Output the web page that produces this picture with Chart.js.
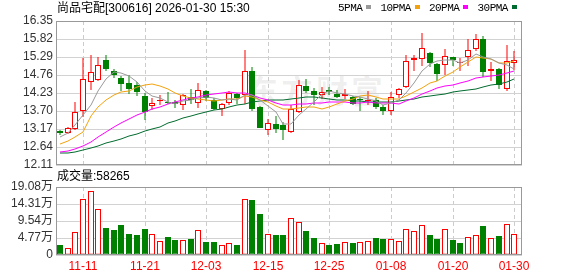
<!DOCTYPE html>
<html>
<head>
<meta charset="utf-8">
<script src="https://cdn.jsdelivr.net/npm/chart.js@4.4.1/dist/chart.umd.min.js"></script>
<style>
  body { margin:0; background:#fff; width:578px; height:276px; overflow:hidden; position:relative;
         font-family:'Liberation Sans','Noto Sans CJK SC',sans-serif; }
  canvas { position:absolute; left:0; }
  #kline { top:0; }
  #vol { top:176px; }
  .txt { position:absolute; font-size:12px; color:#000; white-space:nowrap; line-height:14px; }
  #title { left:57px; top:1px; }
  #legend { left:338px; top:1px; font-family:'Liberation Mono',monospace; font-size:11px; letter-spacing:-0.5px; }
  #legend i { display:inline-block; width:5px; height:4px; margin:0 9px 2px 4px; vertical-align:middle; }
  #volTitle { left:57px; top:169px; }
  #mark { position:absolute; left:246px; top:66px; font-size:32px; font-weight:bold; color:rgba(0,0,0,0.07);
          letter-spacing:3px; font-family:'Noto Sans CJK SC'; white-space:nowrap; }
</style>
</head>
<body>
<div id="mark">东方财富</div>
<canvas id="kline" width="578" height="176"></canvas>
<canvas id="vol" width="578" height="100"></canvas>
<div class="txt" id="title">尚品宅配[300616] 2026-01-30 15:30</div>
<div class="txt" id="legend">5PMA<i style="background:#999999"></i>10PMA<i style="background:#f2a20c"></i>20PMA<i style="background:#ff00ff"></i>30PMA<i style="background:#006b2e"></i></div>
<div class="txt" id="volTitle">成交量:58265</div>
<script>
// daily K-line data, 2025-11-06 .. 2026-01-30
const dates = ['11-06','11-07','11-10','11-11','11-12','11-13','11-14','11-17','11-18','11-19',
               '11-20','11-21','11-24','11-25','11-26','11-27','11-28','12-01','12-02','12-03',
               '12-04','12-05','12-08','12-09','12-10','12-11','12-12','12-15','12-16','12-17',
               '12-18','12-19','12-22','12-23','12-24','12-25','12-26','12-29','12-30','12-31',
               '01-05','01-06','01-07','01-08','01-09','01-12','01-13','01-14','01-15','01-16',
               '01-19','01-20','01-21','01-22','01-23','01-26','01-27','01-28','01-29','01-30'];

const opens  = [13.11,13.04,13.17,13.69,14.55,14.60,15.21,14.89,14.67,14.52,
                14.46,14.13,13.84,13.98,13.97,13.96,13.87,14.10,13.95,14.30,
                14.03,13.76,13.95,14.20,14.18,14.87,13.82,13.15,13.31,13.29,
                13.07,13.67,14.44,14.30,14.16,14.32,14.20,14.13,14.12,14.04,
                14.00,14.03,13.83,13.69,14.16,14.40,15.19,15.22,15.42,15.09,
                15.05,15.29,15.12,15.29,15.54,15.82,14.87,14.94,14.36,15.11];
const highs  = [13.13,13.23,13.96,15.26,15.34,15.29,15.34,14.94,14.72,14.75,
                14.55,14.22,14.07,14.18,14.26,14.03,14.19,14.35,14.52,14.32,
                14.08,13.94,14.28,14.22,15.50,15.01,13.84,13.47,13.54,13.39,
                13.87,14.61,14.64,14.38,14.41,14.41,14.32,14.36,14.14,14.10,
                14.28,14.08,13.87,14.26,14.38,15.34,15.34,16.00,15.44,15.11,
                15.52,15.30,15.25,15.82,15.97,15.92,15.13,14.97,15.64,15.46];
const lows   = [12.98,13.02,13.15,13.51,14.33,14.58,14.87,14.67,14.30,14.20,
                14.13,13.44,13.73,13.88,13.92,13.80,13.74,13.91,13.80,13.98,
                13.74,13.56,13.88,13.92,13.92,13.71,13.19,13.00,13.05,12.85,
                13.05,13.64,14.24,13.88,14.05,14.16,14.08,14.05,13.88,13.69,
                13.88,13.77,13.59,13.59,14.08,14.38,14.87,15.02,14.99,14.59,
                14.77,15.02,14.87,15.02,15.46,14.69,14.58,14.36,14.28,14.91];
const closes = [13.06,13.19,13.66,14.64,14.85,15.05,14.95,14.75,14.49,14.35,
                14.25,13.68,13.95,14.02,13.94,13.92,14.16,14.02,14.32,14.08,
                13.77,13.92,14.22,14.08,14.87,13.76,13.21,13.35,13.17,13.15,
                13.77,14.46,14.28,14.16,14.26,14.26,14.12,14.19,13.90,14.02,
                14.03,13.81,13.71,14.12,14.36,15.17,15.26,15.55,15.10,14.80,
                15.31,15.21,15.13,15.49,15.82,14.85,14.93,14.48,15.17,15.20];

const ma5  = [12.93,13.05,13.30,13.58,13.88,14.28,14.63,14.85,14.82,14.72,
              14.56,14.30,14.14,14.07,13.97,13.90,14.00,14.01,14.07,14.10,
              14.07,14.02,14.06,14.01,14.17,14.17,14.03,13.85,13.67,13.33,
              13.33,13.58,13.77,13.96,14.19,14.28,14.22,14.20,14.15,14.10,
              14.05,13.99,13.89,13.94,14.01,14.23,14.52,14.89,15.09,15.18,
              15.20,15.19,15.11,15.19,15.39,15.30,15.24,15.11,15.05,14.93];
const ma10 = [12.72,12.82,12.93,13.08,13.55,13.82,14.03,14.17,14.25,14.30,
              14.42,14.47,14.50,14.43,14.34,14.23,14.15,14.08,14.06,14.03,
              13.99,14.01,14.04,14.04,14.14,14.12,14.03,13.96,13.84,13.75,
              13.75,13.80,13.81,13.82,13.76,13.81,13.90,13.98,14.06,14.14,
              14.17,14.10,14.05,14.04,14.05,14.14,14.26,14.39,14.51,14.59,
              14.72,14.86,15.00,15.14,15.28,15.25,15.22,15.11,15.12,15.16];
const ma20 = [12.50,12.52,12.58,12.67,12.80,12.92,13.08,13.22,13.35,13.47,
              13.57,13.66,13.75,13.83,13.90,13.96,14.02,14.07,14.12,14.17,
              14.20,14.24,14.27,14.24,14.24,14.18,14.09,14.02,13.95,13.89,
              13.87,13.91,13.92,13.93,13.95,13.96,13.96,13.97,13.95,13.95,
              13.96,13.95,13.93,13.93,13.90,13.98,14.08,14.19,14.28,14.37,
              14.44,14.48,14.52,14.59,14.67,14.70,14.74,14.75,14.82,14.88];
const ma30 = [12.46,12.46,12.49,12.55,12.61,12.68,12.75,12.82,12.89,12.96,
              13.03,13.10,13.17,13.24,13.34,13.42,13.48,13.54,13.60,13.66,
              13.72,13.77,13.82,13.87,13.91,13.96,13.99,14.01,14.02,14.03,
              14.05,14.09,14.11,14.10,14.08,14.05,14.02,14.01,13.99,13.98,
              13.97,13.97,13.96,13.97,13.98,14.02,14.06,14.11,14.14,14.16,
              14.21,14.26,14.29,14.33,14.36,14.40,14.46,14.50,14.56,14.63];

// volume in 万手
const volumes = [2.70,2.06,6.36,15.8,17.9,13.0,7.50,6.90,8.30,5.80,
                 5.50,7.20,5.80,3.80,4.96,4.10,4.30,4.40,6.90,3.55,
                 3.55,2.90,3.46,2.70,15.8,15.5,11.4,6.00,5.50,5.50,
                 10.5,9.35,6.60,4.70,3.46,2.70,3.00,3.70,3.30,3.55,
                 3.80,4.70,4.40,4.60,3.80,7.40,6.60,8.50,5.50,4.40,
                 7.40,4.10,3.30,5.10,5.70,8.00,4.90,5.20,8.80,5.83];

const priceTicks = [12.11,12.64,13.17,13.70,14.23,14.76,15.29,15.82,16.35];
const volTicks = [0,4.77,9.54,14.31,19.08];
const tickDates = ['11-11','11-21','12-03','12-15','12-25','01-08','01-20','01-30'];

const UP = '#ff0000', DOWN = '#008000';
const FONT = "'Liberation Sans','Noto Sans CJK SC',sans-serif";
const isUp = i => closes[i] >= opens[i];
const volUp = i => i === 0 ? isUp(0) : closes[i] > closes[i - 1];

// grey box round the plot area
const frame = {
    id: 'frame',
    afterDraw(chart) {
        const { ctx, chartArea: a } = chart;
        ctx.save();
        ctx.strokeStyle = '#999999';
        ctx.lineWidth = 1;
        ctx.strokeRect(Math.round(a.left) + 0.5, Math.round(a.top) + 0.5,
                       Math.round(a.right - a.left) - 1, Math.round(a.bottom - a.top) - 1);
        ctx.restore();
    }
};

const xScale = (showLabels) => ({
    type: 'linear', min: -0.5, max: 60, offset: false, alignToPixels: true,
    afterBuildTicks: s => { s.ticks = tickDates.map(d => ({ value: dates.indexOf(d) })); },
    grid: { color: '#cccccc', drawTicks: false, offset: false },
    border: { display: false, dash: [4, 3] },
    ticks: {
        display: showLabels, autoSkip: false, maxRotation: 0, padding: 4,
        color: UP, font: { size: 12, family: FONT },
        callback: v => dates[v]
    },
    afterFit: s => { s.height = showLabels ? 21 : 0; }
});

const yScale = (min, max, ticks, fmt) => ({
    min, max, alignToPixels: true,
    afterBuildTicks: s => { s.ticks = ticks.map(v => ({ value: v })); },
    grid: { color: '#d2d2d2', drawTicks: false },
    border: { display: false },
    ticks: { autoSkip: false, padding: 3, color: '#333333', font: { size: 12, family: FONT }, callback: fmt },
    afterFit: s => { s.width = 56; }
});

const baseOptions = {
    responsive: false,
    animation: false,
    events: [],
    plugins: { legend: { display: false }, tooltip: { enabled: false } }
};

const maLine = (data, color) => ({
    type: 'line',
    data: data.map((v, i) => ({ x: i, y: v })),
    borderColor: color,
    borderWidth: 1,
    pointRadius: 0,
    tension: 0,
    order: 0
});

// 1. K-line with moving averages
new Chart(document.getElementById('kline').getContext('2d'), {
    type: 'bar',
    data: {
        datasets: [
            maLine(ma5, '#999999'),
            maLine(ma10, '#f2a20c'),
            maLine(ma20, '#ff00ff'),
            maLine(ma30, '#006b2e'),
            {
                data: opens.map((o, i) => ({ x: i, y: [o, closes[i]] })),
                backgroundColor: c => isUp(c.dataIndex) ? '#ffffff' : DOWN,
                borderColor: c => isUp(c.dataIndex) ? UP : DOWN,
                borderWidth: 1,
                borderSkipped: false,
                inflateAmount: 0,
                barThickness: 6,
                minBarLength: 1,
                grouped: false,
                order: 1
            },
            {
                data: lows.map((l, i) => ({ x: i, y: [l, highs[i]] })),
                backgroundColor: c => isUp(c.dataIndex) ? UP : DOWN,
                borderWidth: 0,
                inflateAmount: 0,
                barThickness: 1,
                grouped: false,
                order: 2
            }
        ]
    },
    options: {
        ...baseOptions,
        layout: { padding: { top: 21, right: 56, bottom: 11, left: 0 } },
        scales: {
            x: xScale(false),
            y: yScale(12.11, 16.35, priceTicks, v => v.toFixed(2))
        }
    },
    plugins: [frame]
});

// 2. volume bars
new Chart(document.getElementById('vol').getContext('2d'), {
    type: 'bar',
    data: {
        datasets: [{
            data: volumes.map((v, i) => ({ x: i, y: v })),
            backgroundColor: c => volUp(c.dataIndex) ? '#ffffff' : DOWN,
            borderColor: c => volUp(c.dataIndex) ? UP : DOWN,
            borderWidth: 1,
            borderSkipped: false,
            inflateAmount: 0,
            barThickness: 6,
            grouped: false
        }]
    },
    options: {
        ...baseOptions,
        layout: { padding: { top: 11, right: 56, bottom: 0, left: 0 } },
        scales: {
            x: xScale(true),
            y: yScale(0, 19.08, volTicks, v => v === 0 ? '0' : v.toFixed(2) + '万')
        }
    },
    plugins: [frame]
});
</script>
</body>
</html>
